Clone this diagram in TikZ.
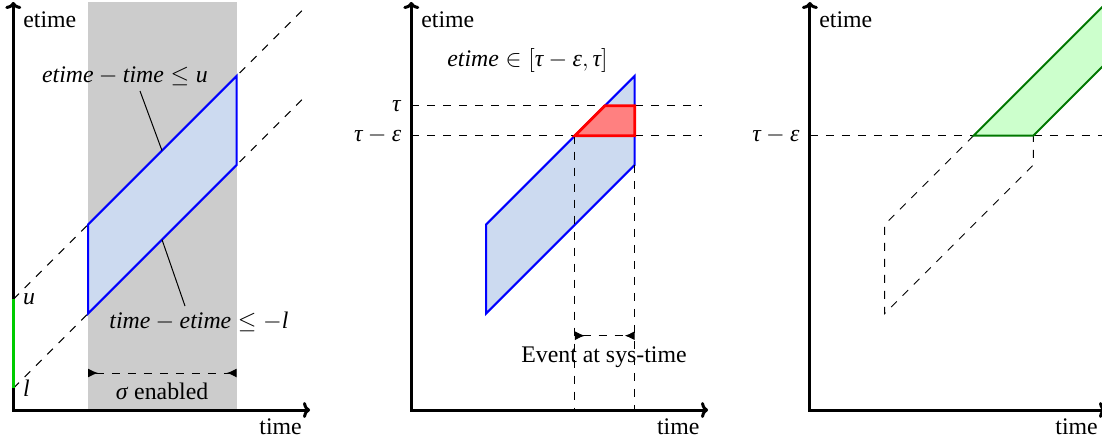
\documentclass[tikz,border=0pt]{standalone}
\usepackage{fontspec}
\setmainfont{Liberation Serif}
\usetikzlibrary{arrows.meta}
\newcommand\vi[1]{\textit{#1}}
\definecolor{paraFill}{RGB}{204,218,240}
\definecolor{bandFill}{RGB}{204,255,204}
\definecolor{bandLine}{RGB}{0,120,0}
\definecolor{axGreen}{RGB}{0,204,0}
\definecolor{shadeGray}{RGB}{204,204,204}
\begin{document}
\begin{tikzpicture}[x=0.5pt,y=-0.5pt,
  font=\fontsize{11.9}{14}\selectfont,
  axis/.style={line width=1.5pt,{To[length=3.5pt,width=8pt]}-{To[length=3.5pt,width=8pt]}},
  guide/.style={line width=0.5pt,dash pattern=on 4pt off 4pt},
  para/.style={draw=blue,line width=1pt,fill=paraFill},
  lbl/.style={inner sep=0pt},
  dimline/.style={guide,{Latex[reversed,length=5pt,width=4.5pt]}-{Latex[reversed,length=5pt,width=4.5pt]}},
  pin/.style={line width=0.5pt}
]
\useasboundingbox (0,0) rectangle (1102,444);
\clip (0,0) rectangle (1102,444);

% ---------------- Panel 1 ----------------
\fill[shadeGray] (88,2) rectangle (236.7,409);
\coordinate (ya1) at (13.3,2);
\coordinate (o1) at (13.3,410);
\coordinate (xa1) at (310,410);
\coordinate (u1) at (13.3,299.3);
\coordinate (l1) at (13.3,388.3);
\coordinate (ue1) at (307,5.6);
\coordinate (le1) at (307,94.6);
\draw[guide] (u1) -- (ue1);
\draw[guide] (l1) -- (le1);
\draw[para] (88,224.6) -- (236.7,75.9) -- (236.7,164.9) -- (88,313.6) -- cycle;
\draw[axis] (ya1) -- (o1) -- (xa1);
\draw[axGreen,line width=1.8pt] (u1) -- (l1);
\node[lbl,anchor=base west] (uL) at (22.7,304) {\vi{u}};
\node[lbl,anchor=base west] (lL) at (22.7,396) {\vi{l}};
\node[lbl,anchor=base west] (et1) at (23,27.7) {etime};
\node[lbl,anchor=base west] (ti1) at (259,434.3) {time};
\node[lbl,anchor=base] (c1) at (125,82.7) {$\vi{etime}-\vi{time}\leq\vi{u}$};
\node[lbl,anchor=base] (c2) at (199,328.3) {$\vi{time}-\vi{etime}\leq-\vi{l}$};
\coordinate (c1e) at (162,150.6);
\coordinate (c1t) at (140,91);
\coordinate (c2e) at (162,239.6);
\coordinate (c2t) at (185,306);
\draw[pin] (c1t) -- (c1e);
\draw[pin] (c2t) -- (c2e);
\coordinate (s1a) at (88,373);
\coordinate (s1b) at (236.7,373);
\draw[dimline] (s1a) -- (s1b);
\node[lbl,anchor=base] (sen) at (162,399) {\vi{σ} enabled};

% ---------------- Panel 2 ----------------
\coordinate (ya2) at (411.3,2);
\coordinate (o2) at (411.3,410);
\coordinate (xa2) at (708,410);
\coordinate (tau2) at (411.3,105.7);
\coordinate (tau2e) at (701.7,105.7);
\coordinate (te2) at (411.3,135.7);
\coordinate (te2e) at (701.7,135.7);
\draw[para] (486,224.6) -- (634.7,75.9) -- (634.7,164.9) -- (486,313.6) -- cycle;
\draw[guide] (tau2) -- (tau2e);
\draw[guide] (te2) -- (te2e);
\coordinate (r1) at (574.9,135.7);
\coordinate (r2) at (604.9,105.7);
\coordinate (r3) at (634.7,105.7);
\coordinate (r4) at (634.7,135.7);
\coordinate (v1b) at (574.9,410);
\coordinate (v2t) at (634.7,164.9);
\coordinate (v2b) at (634.7,410);
\draw[guide] (r1) -- (v1b);
\draw[guide] (v2t) -- (v2b);
\draw[draw=red,fill=red!50,line width=1.4pt,line join=miter] (r1) -- (r2) -- (r3) -- (r4) -- cycle;
\draw[axis] (ya2) -- (o2) -- (xa2);
\node[lbl,anchor=base west] (et2) at (421,27.7) {etime};
\node[lbl,anchor=base west] (ti2) at (656.7,434.3) {time};
\node[lbl,anchor=base] (c3) at (527.5,66.7) {$\vi{etime}\in[\vi{τ}-\vi{ε},\vi{τ}]$};
\node[lbl,anchor=base east] (tl2) at (401.7,111.7) {\vi{τ}};
\node[lbl,anchor=base east] (tel2) at (401.7,141.7) {$\vi{τ}-\vi{ε}$};
\coordinate (s2a) at (574.9,335.7);
\coordinate (s2b) at (634.7,335.7);
\draw[dimline] (s2a) -- (s2b);
\node[lbl,anchor=base] (ev) at (604,362.7) {Event at sys-time};

% ---------------- Panel 3 ----------------
\coordinate (ya3) at (809.9,2);
\coordinate (o3) at (809.9,410);
\coordinate (xa3) at (1106,410);
\coordinate (te3) at (809.9,135.7);
\coordinate (te3e) at (1110,135.7);
\coordinate (g1) at (973.5,135.7);
\coordinate (g2) at (1129.2,-20);
\coordinate (g3) at (1189,-20);
\coordinate (g4) at (1033.3,135.7);
\coordinate (d1) at (884.6,224.6);
\coordinate (d2) at (884.6,313.6);
\coordinate (d3) at (1033.3,164.9);
\draw[guide] (te3) -- (te3e);
\draw[guide] (g1) -- (d1) -- (d2) -- (d3) -- (g4);
\draw[draw=bandLine,fill=bandFill,line width=1pt] (g1) -- (g2) -- (g3) -- (g4) -- cycle;
\draw[axis] (ya3) -- (o3) -- (xa3);
\node[lbl,anchor=base west] (et3) at (819,27.7) {etime};
\node[lbl,anchor=base west] (ti3) at (1055,434.3) {time};
\node[lbl,anchor=base east] (tel3) at (800,141.7) {$\vi{τ}-\vi{ε}$};
\end{tikzpicture}
\end{document}
